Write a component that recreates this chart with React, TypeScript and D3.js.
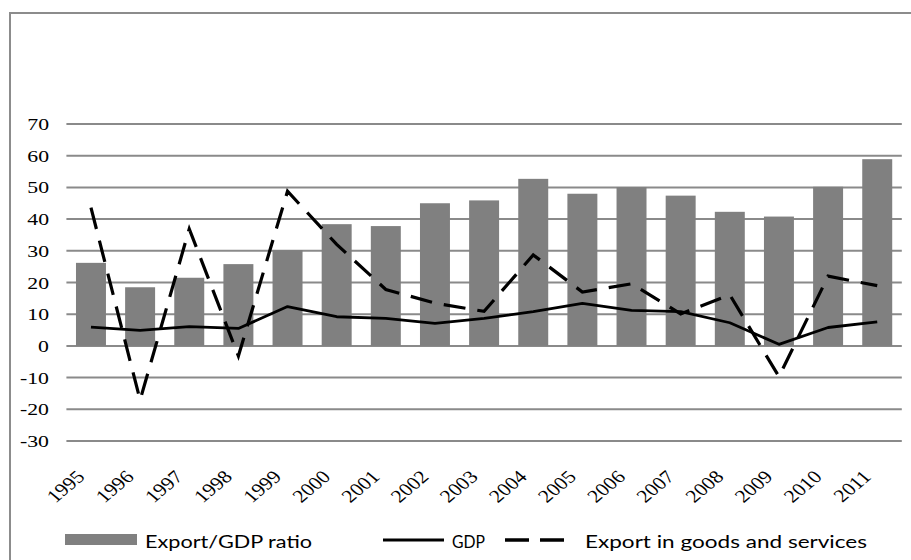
import React from "react";
import * as d3 from "d3";

const years = ["1995","1996","1997","1998","1999","2000","2001","2002","2003","2004","2005","2006","2007","2008","2009","2010","2011"];
const exportGdpRatio = [26.2, 18.5, 21.5, 25.8, 30.2, 38.4, 37.8, 45.0, 45.9, 52.7, 48.0, 50.1, 47.4, 42.3, 40.8, 50.2, 58.9];
const gdp = [5.9, 4.9, 6.1, 5.5, 12.4, 9.2, 8.7, 7.1, 8.7, 10.8, 13.4, 11.2, 10.8, 7.3, 0.5, 5.8, 7.6];
const exportsGS = [43.6, -17.1, 36.9, -3.2, 48.8, 32.0, 17.8, 13.5, 10.9, 28.7, 17.0, 19.6, 10.1, 16.1, -9.7, 22.0, 19.0];
const yTicks = [-30, -20, -10, 0, 10, 20, 30, 40, 50, 60, 70];
const legendLabels = ["Export/GDP ratio", "GDP", "Export in goods and services"];

const W = 911;
const H = 560;
const SXY = 1.28; // horizontal stretch of y tick labels in the original
const SXX = 1.2; // horizontal stretch of year labels

export default function App() {
  const x = d3.scaleBand<string>().domain(years).range([66.4, 901.8]).paddingInner(0.39).paddingOuter(0.195);
  const y = d3.scaleLinear().domain([-30, 70]).range([441, 124]);
  const cx = (i: number) => (x(years[i]) as number) + x.bandwidth() / 2;

  const line = d3.line<number>().x((_, i) => cx(i)).y((d) => y(d));

  const serif = { fontFamily: "Liberation Serif, serif" };
  const sans = { fontFamily: "Lato, Noto Sans, sans-serif" };
  const grid = "#8a8a8a";
  const barColor = "#808080";

  return (
    <svg width={W} height={H} style={{ position: "absolute", left: 0, top: 0, background: "#fff" }}>
      <rect x={0} y={0} width={W} height={H} fill="#fff" />
      <rect x={10} y={13} width={1200} height={1200} fill="none" stroke="#8c8c8c" strokeWidth={2} />

      {yTicks.map((t) => (
        <line key={"g" + t} x1={66.4} x2={901.8} y1={y(t)} y2={y(t)} stroke={grid} strokeWidth={2} />
      ))}

      {yTicks.map((t) => (
        <g key={"yl" + t} transform={`translate(49,${y(t) + 6}) scale(${SXY},1)`}>
          <text textAnchor="end" style={serif} fontSize={17} fill="#000">{t}</text>
        </g>
      ))}

      {exportGdpRatio.map((v, i) => (
        <rect key={"b" + i} x={x(years[i]) as number} width={x.bandwidth()} y={y(Math.max(0, v))} height={Math.abs(y(v) - y(0))} fill={barColor} />
      ))}

      <path d={line(gdp) || ""} fill="none" stroke="#000" strokeWidth={2.8} strokeLinejoin="round" />
      <path d={line(exportsGS) || ""} fill="none" stroke="#000" strokeWidth={3.2} strokeDasharray="22,12" />

      {years.map((yr, i) => (
        <g key={"xl" + yr} transform={`translate(${cx(i) - 5},478) scale(${SXX},1)`}>
          <text transform="rotate(-45)" textAnchor="end" style={serif} fontSize={18} fill="#000">{yr}</text>
        </g>
      ))}

      {/* legend */}
      <rect x={65} y={534} width={72} height={11} fill={barColor} />
      <text x={145} y={548} style={sans} fontSize={18} fill="#000" textLength={167} lengthAdjust="spacingAndGlyphs">{legendLabels[0]}</text>

      <line x1={383} x2={444} y1={540} y2={540} stroke="#000" strokeWidth={3} />
      <text x={452} y={548} style={sans} fontSize={18} fill="#000" textLength={33} lengthAdjust="spacingAndGlyphs">{legendLabels[1]}</text>

      <line x1={505} x2={568} y1={540} y2={540} stroke="#000" strokeWidth={3.5} strokeDasharray="24,11" />
      <text x={585} y={548} style={sans} fontSize={18} fill="#000" textLength={282} lengthAdjust="spacingAndGlyphs">{legendLabels[2]}</text>
    </svg>
  );
}
